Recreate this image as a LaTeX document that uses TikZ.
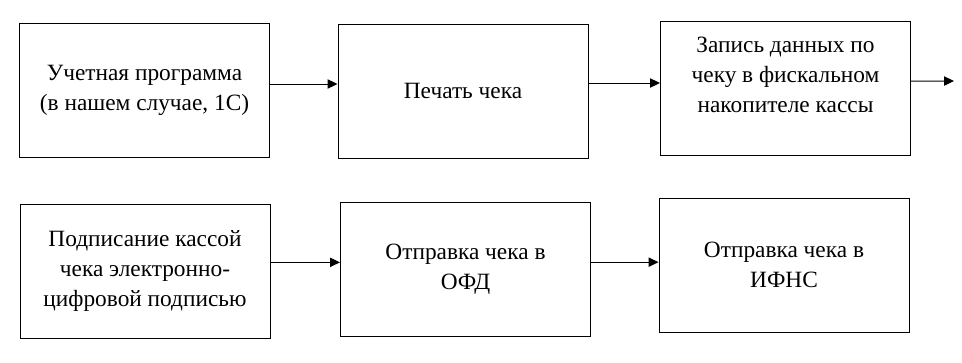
\documentclass[tikz,border=0pt]{standalone}
\usepackage{fontspec}
\setmainfont{LiberationSerif-Regular.ttf}
\newfontfamily\boxfont{LiberationSerif-Regular.ttf}
\usepackage{tikz}
\usetikzlibrary{arrows.meta, positioning}

\begin{document}
\begin{tikzpicture}[
    x=0.75pt, y=-0.75pt,
    box/.style  = {rectangle, draw=black, line width=0.75pt,
                   minimum width=187.5pt, minimum height=100.5pt,
                   align=center, inner sep=2pt,
                   font=\boxfont\fontsize{17.5}{22.5}\selectfont},
    txt/.style  = {align=center, font=\boxfont\fontsize{17.5}{22.5}\selectfont},
    arr/.style  = {-{Triangle[length=7.5pt, width=7pt]}, line width=0.75pt}
  ]
  \useasboundingbox (0,0) rectangle (962,362);

  % first row
  \node[box] (prog)  at (144.5, 90)  {Учетная программа\\(в нашем случае, 1С)};
  \node[box] (print) at (463, 91)    {Печать чека};
  \node[box, label={[txt, yshift=10pt]center:Запись данных по\\чеку в фискальном\\накопителе кассы}]
        (fn) at (785.5, 88.5) {};
  \coordinate (next) at (954, 81);

  % second row
  \node[box] (sign) at (145, 271)    {Подписание кассой\\чека электронно-\\цифровой подписью};
  \node[box] (ofd)  at (465.5, 269.5) {Отправка чека в\\ОФД};
  \node[box] (ifns) at (784, 265)    {Отправка чека в\\ИФНС};

  \draw[arr] ([yshift=4.5pt]prog.east) -- ([yshift=4.5pt]prog.east -| print.west);
  \draw[arr] ([yshift=6pt]print.east)  -- ([yshift=6pt]print.east -| fn.west);
  \draw[arr] ([yshift=5.5pt]fn.east)   -- (next);
  \draw[arr] ([yshift=6.5pt]sign.east) -- ([yshift=6.5pt]sign.east -| ofd.west);
  \draw[arr] ([yshift=5.5pt]ofd.east)  -- ([yshift=5.5pt]ofd.east -| ifns.west);
\end{tikzpicture}
\end{document}
